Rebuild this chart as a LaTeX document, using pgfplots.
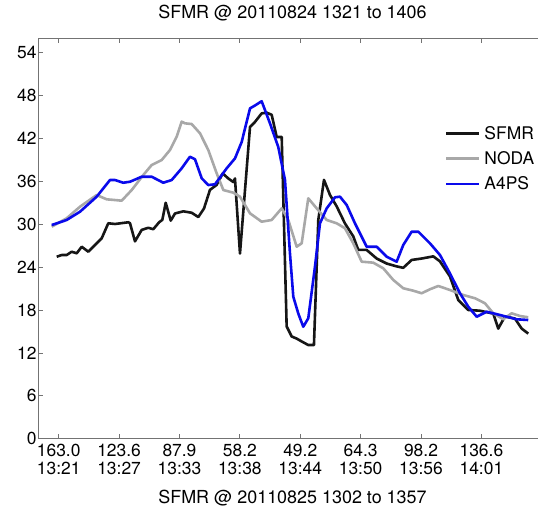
\documentclass[border=0pt]{standalone}
\usepackage{fontspec}
\setmainfont{TeX Gyre Heros}
\usepackage{pgfplots}
\pgfplotsset{compat=1.18}
\usepackage{pgfplotstable}
\definecolor{axisgray}{RGB}{115,115,115}
\definecolor{sfmrc}{RGB}{22,22,22}
\definecolor{nodac}{RGB}{168,168,168}
\definecolor{apsc}{RGB}{10,10,235}

\pgfplotstableread{
x y
-0.033 25.45
0.050 25.69
0.132 25.69
0.215 26.15
0.298 25.93
0.381 26.85
0.490 26.15
0.601 27.09
0.712 28.03
0.821 30.13
0.932 30.03
1.153 30.27
1.181 30.13
1.263 27.6
1.374 29.2
1.484 29.5
1.566 29.3
1.666 30.3
1.716 30.6
1.772 33.0
1.855 30.5
1.926 31.5
2.063 31.8
2.202 31.6
2.312 31.0
2.406 32.2
2.505 34.8
2.616 35.5
2.716 37.1
2.808 36.4
2.891 35.9
2.919 36.4
3.002 25.9
3.168 43.6
3.250 44.3
3.361 45.5
3.444 45.6
3.527 45.3
3.610 42.2
3.693 42.2
3.775 15.7
3.858 14.3
3.941 14.0
4.024 13.6
4.133 13.1
4.227 13.1
4.299 30.6
4.393 36.2
4.492 34.1
4.603 32.5
4.741 30.1
4.878 28.3
4.961 26.4
5.100 26.4
5.266 25.2
5.431 24.5
5.597 24.1
5.706 23.9
5.845 25.0
6.011 25.2
6.203 25.5
6.314 24.8
6.479 22.7
6.617 19.4
6.783 18.0
6.976 17.9
7.197 17.5
7.279 15.4
7.390 17.1
7.556 16.8
7.667 15.4
7.776 14.7
}\sfmr

\pgfplotstableread{
x y
-0.116 29.65
0.132 30.83
0.353 32.45
0.629 34.08
0.795 33.48
0.932 33.38
1.043 33.29
1.209 34.78
1.401 36.88
1.540 38.28
1.706 38.98
1.843 40.38
1.954 42.24
2.037 44.34
2.091 44.11
2.202 44.01
2.340 42.71
2.477 40.38
2.616 37.12
2.726 34.78
2.891 34.41
3.002 33.85
3.168 31.52
3.361 30.35
3.527 30.59
3.693 32.22
3.802 30.59
3.941 26.85
4.024 27.33
4.133 33.62
4.272 32.22
4.438 30.59
4.603 30.13
4.741 29.43
4.878 27.33
5.017 24.76
5.209 24.62
5.375 23.83
5.541 22.20
5.706 21.04
5.872 20.70
6.011 20.34
6.148 20.90
6.286 21.36
6.479 20.80
6.700 20.10
6.894 19.64
7.059 18.94
7.197 17.54
7.362 16.70
7.501 17.54
7.639 17.16
7.776 16.98
}\noda

\pgfplotstableread{
x y
-0.116 29.89
0.132 30.59
0.353 31.75
0.629 33.85
0.849 36.18
0.932 36.18
1.070 35.80
1.181 35.94
1.374 36.64
1.540 36.64
1.732 35.80
1.871 36.18
2.037 37.82
2.174 39.44
2.257 39.08
2.368 36.42
2.477 35.48
2.588 35.58
2.782 37.82
2.919 39.2
3.030 41.5
3.168 46.2
3.250 46.6
3.361 47.2
3.499 44.1
3.636 40.8
3.747 36.2
3.830 25.9
3.885 19.86
3.968 17.5
4.050 15.66
4.133 16.84
4.244 24.06
4.327 30.13
4.438 32.22
4.575 33.76
4.658 33.85
4.769 32.69
4.906 30.13
5.100 26.85
5.266 26.85
5.431 25.45
5.597 24.76
5.706 27.09
5.845 28.95
5.955 28.95
6.148 27.33
6.314 25.69
6.479 23.13
6.645 20.34
6.783 18.46
6.922 17.06
7.087 17.76
7.308 17.30
7.584 16.70
7.776 16.60
}\apsfour

\begin{document}
\begin{tikzpicture}[font=\fontsize{17.5}{21}\selectfont]
\path[use as bounding box] (-38.3bp,-70.3bp) rectangle (499.7bp,438.7bp);
\begin{axis}[
  at={(0,0)}, anchor=south west,
  scale only axis,
  width=507.7bp, height=400.4bp,
  xmin=-0.338, xmax=8.07,
  ymin=0, ymax=56,
  axis x line=box, axis y line=left,
  axis line style={draw=axisgray, line width=0.9bp, -},
  tick align=inside,
  major tick length=5bp,
  every tick/.style={axisgray, line width=0.8bp},
  xtick={0,1,2,3,4,5,6,7},
  xtick pos=both,
  xticklabels={{163.0\\13:21},{123.6\\13:27},{87.9\\13:33},{58.2\\13:38},{49.2\\13:44},{64.3\\13:50},{98.2\\13:56},{136.6\\14:01}},
  xticklabel style={align=center, font=\fontsize{17.5}{18}\selectfont, yshift=-2bp},
  ytick={0,6,12,18,24,30,36,42,48,54},
  ytick pos=left,
  yticklabel style={xshift=1.8bp},
  /pgf/number format/assume math mode=true,
  title={SFMR @ 20110824 1321 to 1406},
  title style={at={(axis description cs:0.5007,1.0357)}, anchor=base, inner sep=0pt, font=\fontsize{18}{21}\selectfont},
  xlabel={SFMR @ 20110825 1302 to 1357},
  xlabel style={at={(axis description cs:0.5007,-0.1613)}, anchor=base, inner sep=0pt, font=\fontsize{18}{21}\selectfont},
  legend cell align=left,
  legend image code/.code={\draw[#1, line width=2.6bp] (0bp,0bp) -- (33bp,0bp);},
  legend style={draw=none, fill=none, at={(axis description cs:0.801,0.781)}, anchor=north west,
    inner sep=0pt, row sep=10.7bp, column sep=3.7bp, nodes={inner sep=0pt}},
  every axis plot/.append style={line width=2.6bp, line join=round},
]
\addplot[sfmrc] table {\sfmr};
\addlegendentry{SFMR}
\addplot[nodac] table {\noda};
\addlegendentry{NODA}
\addplot[apsc] table {\apsfour};
\addlegendentry{A4PS}
\end{axis}
\end{tikzpicture}
\end{document}
